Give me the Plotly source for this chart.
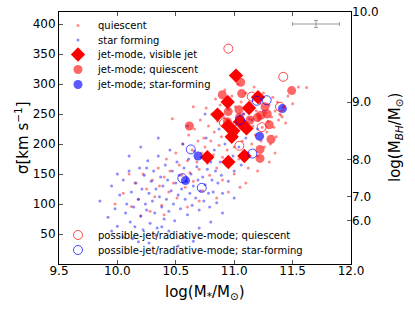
import plotly.graph_objects as go
import numpy as np

# ---------------- data ----------------
# quiescent galaxies (small red dots): log M*, sigma
q_x = [10.05, 10.12, 10.15, 10.18, 10.22, 10.25, 10.28, 10.30, 10.32, 10.35, 10.36, 10.38, 10.40, 10.42,
       10.44, 10.45, 10.47, 10.48, 10.50, 10.51, 10.53, 10.55, 10.56, 10.58, 10.60, 10.61, 10.62, 10.64,
       10.65, 10.66, 10.68, 10.69, 10.70, 10.71, 10.72, 10.73, 10.74, 10.75, 10.76, 10.77, 10.78, 10.79,
       10.80, 10.81, 10.82, 10.83, 10.84, 10.85, 10.86, 10.87, 10.88, 10.89, 10.90, 10.91, 10.92, 10.93,
       10.94, 10.95, 10.96, 10.97, 10.98, 10.99, 11.00, 11.01, 11.02, 11.03, 11.04, 11.05, 11.06, 11.07,
       11.08, 11.09, 11.10, 11.11, 11.12, 11.13, 11.14, 11.15, 11.16, 11.17, 11.18, 11.19, 11.20, 11.21,
       11.22, 11.23, 11.24, 11.25, 11.26, 11.27, 11.28, 11.29, 11.30, 11.31, 11.32, 11.33, 11.34, 11.35,
       11.36, 11.37, 11.38, 11.39, 11.40, 11.41, 11.42, 11.44, 11.46, 11.50, 11.55, 11.62, 10.90, 11.00,
       11.10, 10.95, 10.85, 11.05, 10.60, 10.70, 10.20, 10.40, 9.98, 10.10, 10.65, 11.20, 11.30, 11.35]
q_s = [118, 96, 135, 108, 150, 125, 88, 140, 112, 160, 130, 98, 145, 175,
       120, 155, 242, 135, 185, 110, 165, 148, 200, 128, 172, 215, 152, 190,
       138, 225, 170, 205, 158, 240, 185, 122, 210, 195, 260, 168, 230, 148,
       205, 250, 182, 220, 275, 160, 238, 198, 265, 212, 178, 245, 290, 225,
       190, 258, 208, 168, 280, 235, 195, 262, 218, 300, 175, 232, 270, 205,
       250, 188, 285, 225, 160, 242, 268, 200, 230, 295, 215, 255, 180, 240,
       268, 205, 228, 285, 195, 252, 220, 238, 265, 200, 245, 278, 228, 255,
       212, 270, 240, 250, 248, 245, 262, 235, 280, 267, 295, 294, 140, 150,
       135, 120, 110, 128, 95, 105, 80, 82, 100, 150, 262, 155, 170, 185]

# star-forming galaxies (small blue dots)
sf_x = [9.85, 9.92, 9.95, 9.98, 10.00, 10.02, 10.05, 10.07, 10.08, 10.10, 10.11, 10.12, 10.14, 10.15,
        10.16, 10.18, 10.19, 10.20, 10.21, 10.22, 10.23, 10.24, 10.25, 10.26, 10.27, 10.28, 10.29, 10.30,
        10.31, 10.32, 10.33, 10.34, 10.35, 10.36, 10.37, 10.38, 10.39, 10.40, 10.41, 10.42, 10.43, 10.44,
        10.45, 10.46, 10.47, 10.48, 10.49, 10.50, 10.51, 10.52, 10.53, 10.54, 10.55, 10.56, 10.57, 10.58,
        10.59, 10.60, 10.61, 10.62, 10.63, 10.64, 10.65, 10.66, 10.67, 10.68, 10.69, 10.70, 10.71, 10.72,
        10.73, 10.74, 10.75, 10.76, 10.77, 10.78, 10.79, 10.80, 10.81, 10.82, 10.83, 10.84, 10.85, 10.86,
        10.87, 10.88, 10.89, 10.90, 10.92, 10.93, 10.95, 10.97, 10.99, 11.00, 11.02, 11.04, 11.06, 11.08,
        11.10, 11.12, 11.15, 11.20, 11.25, 10.13, 10.18, 10.27, 10.33, 10.44, 10.58, 10.70, 10.80, 10.90,
        11.00, 10.52, 10.65, 10.38, 9.95, 10.05, 10.25, 10.10, 10.35, 10.00, 10.60, 10.75, 10.20]
sf_s = [105, 78, 130, 92, 63, 115, 140, 85, 100, 155, 70, 120, 95, 62,
        135, 108, 160, 80, 125, 57, 148, 100, 90, 172, 118, 68, 138, 105,
        155, 85, 125, 60, 180, 112, 145, 95, 130, 75, 165, 108, 140, 88,
        190, 122, 155, 100, 72, 135, 170, 115, 148, 92, 125, 200, 160, 108,
        138, 82, 175, 118, 150, 98, 130, 188, 110, 162, 140, 90, 122, 178,
        145, 105, 132, 210, 158, 118, 95, 170, 140, 120, 190, 155, 102, 135,
        225, 170, 148, 118, 200, 165, 138, 210, 180, 155, 232, 195, 165, 250,
        210, 185, 240, 225, 255, 42, 37, 35, 48, 55, 45, 60, 70, 85,
        110, 30, 38, 62, 55, 45, 160, 180, 210, 150, 230, 250, 195]

# jet-mode, visible jet (red diamonds)
jv_x = [11.015, 10.944, 11.204, 11.127, 10.857, 10.947, 11.105, 10.992, 10.979, 10.770, 10.950, 11.087, 11.05]
jv_s = [314, 270, 278, 260, 249, 230, 226, 222, 212, 178, 170, 180, 237]

# jet-mode; quiescent (filled red circles)
jq_x = [11.056, 11.064, 11.492, 10.898, 11.264, 11.283, 11.198, 11.227, 11.041, 11.044, 10.949, 11.300,
        11.315, 10.616, 11.221, 11.221, 10.941, 11.135]
jq_s = [303, 284, 289, 282, 262, 250, 244, 248, 257, 244, 254, 232, 208, 230, 191, 176, 237, 240]

# jet-mode; star-forming (filled blue circles)
js_x = [10.690, 10.583, 11.413, 11.217]
js_s = [180, 139, 259, 213]

# possible-jet/radiative-mode; quiescent (open red circles)
pq_x = [10.950, 11.420, 11.150, 11.392, 10.913, 11.235, 11.044]
pq_s = [359, 312, 279, 262, 235, 228, 197]

# possible-jet/radiative-mode; star-forming (open blue circles)
ps_x = [10.628, 10.556, 10.722, 11.278, 11.050, 11.155, 11.193]
ps_s = [191, 143, 127, 273, 240, 184, 272]

# typical error bar
err_x, err_s = [11.7], [400]
err_dx, err_ds = [0.2], [6]

# axis ticks
x_ticks = [9.5, 10.0, 10.5, 11.0, 11.5, 12.0]
s_ticks = [50, 100, 150, 200, 250, 300, 350, 400]
bh_ticks = [6.0, 7.0, 8.0, 9.0, 10.0]
# M-sigma relation used for the right-hand axis
ms_alpha, ms_beta = 8.32, 5.22
bh_sigma = [200 * 10 ** ((b - ms_alpha) / ms_beta) for b in bh_ticks]

FONT = "DejaVu Sans"
fig = go.Figure()

fig.add_trace(go.Scatter(x=q_x, y=q_s, mode="markers", name="quiescent", legend="legend",
                         marker=dict(size=3, color="rgba(255,0,0,0.45)", line=dict(width=0))))
fig.add_trace(go.Scatter(x=sf_x, y=sf_s, mode="markers", name="star forming", legend="legend2",
                         marker=dict(size=3, color="rgba(0,0,255,0.45)", line=dict(width=0))))
fig.add_trace(go.Scatter(x=jv_x, y=jv_s, mode="markers", name="jet-mode, visible jet", legend="legend3",
                         marker=dict(size=11, symbol="diamond", color="#ff0000", line=dict(width=0))))
fig.add_trace(go.Scatter(x=jq_x, y=jq_s, mode="markers", name="jet-mode; quiescent", legend="legend4",
                         marker=dict(size=9, color="rgba(255,0,0,0.6)", line=dict(width=0))))
fig.add_trace(go.Scatter(x=js_x, y=js_s, mode="markers", name="jet-mode; star-forming", legend="legend5",
                         marker=dict(size=9, color="rgba(0,0,255,0.65)", line=dict(width=0))))
fig.add_trace(go.Scatter(x=pq_x, y=pq_s, mode="markers", name="possible-jet/radiative-mode; quiescent",
                         legend="legend6",
                         marker=dict(size=9, symbol="circle-open", color="rgba(255,0,0,0.7)", line=dict(width=1))))
fig.add_trace(go.Scatter(x=ps_x, y=ps_s, mode="markers", name="possible-jet/radiative-mode; star-forming",
                         legend="legend7",
                         marker=dict(size=9, symbol="circle-open", color="rgba(0,0,255,0.7)", line=dict(width=1))))
fig.add_trace(go.Scatter(x=err_x, y=err_s, mode="markers", showlegend=False, yaxis="y2",
                         marker=dict(size=1, color="#999999"),
                         error_x=dict(type="data", array=err_dx, color="#999999", thickness=1, width=2),
                         error_y=dict(type="data", array=err_ds, color="#999999", thickness=1, width=2)))

# plot area: x 59..351, y 12..264
L, R, T, B = 59, 64, 12, 48
W, H = 415, 312
pw, ph = W - L - R, H - T - B

def leg(px_sym, py):
    return dict(x=(px_sym - 20 - L) / pw, y=(H - B - py) / ph, xanchor="left", yanchor="middle",
                bgcolor="rgba(0,0,0,0)", borderwidth=0, font=dict(family=FONT, size=10, color="black"),
                itemsizing="trace")

legend_rows = [25.5, 40, 54.5, 69.5, 84.5, 235, 250]
leg_layout = {}
for i, py in enumerate(legend_rows):
    key = "legend" if i == 0 else f"legend{i+1}"
    leg_layout[key] = leg(78, py)

def px_x(px):
    return (px - L) / pw

def px_y(py):
    return (H - B - py) / ph

axis_titles = [
    dict(text="log(M<sub>*</sub>/M<sub>⊙</sub>)", x=0.5, y=px_y(292), textangle=0),
    dict(text="σ[km s<sup>−1</sup>]", x=px_x(22), y=0.5, textangle=-90),
    dict(text="log(M<sub><i>BH</i></sub>/M<sub>⊙</sub>)", x=px_x(395), y=0.5, textangle=-90),
]
annotations = [dict(text=a["text"], x=a["x"], y=a["y"], xref="paper", yref="paper", showarrow=False,
                    xanchor="center", yanchor="middle", textangle=a["textangle"],
                    font=dict(family=FONT, size=15, color="black")) for a in axis_titles]

fig.update_layout(
    template="none",
    width=W, height=H,
    margin=dict(l=L, r=R, t=T, b=B, autoexpand=False),
    paper_bgcolor="white", plot_bgcolor="white",
    font=dict(family=FONT, color="black"),
    showlegend=True,
    xaxis=dict(range=[9.5, 12.0], tickvals=x_ticks, ticktext=[f"{v:.1f}" for v in x_ticks],
               ticks="inside", ticklen=4, tickcolor="#555", mirror="ticks", showline=True,
               linecolor="black", linewidth=1, showgrid=False, zeroline=False, automargin=False,
               tickfont=dict(size=12), ticklabelstandoff=-4),
    yaxis=dict(range=[0, 420], tickvals=s_ticks, ticktext=[str(v) for v in s_ticks],
               ticks="inside", ticklen=4, tickcolor="#555", mirror=True, showline=True,
               linecolor="black", linewidth=1, showgrid=False, zeroline=False, automargin=False,
               tickfont=dict(size=12)),
    yaxis2=dict(range=[0, 420], overlaying="y", side="right", tickvals=bh_sigma,
                ticktext=[f"{v:.1f}" for v in bh_ticks], ticks="inside", ticklen=4, tickcolor="#555",
                showgrid=False, zeroline=False, showline=False, automargin=False, tickfont=dict(size=12)),
    annotations=annotations,
    **leg_layout,
)

fig.write_html("out.html", config={"displayModeBar": False},
               post_script="document.body.style.margin='0px';document.body.style.overflow='hidden';")
